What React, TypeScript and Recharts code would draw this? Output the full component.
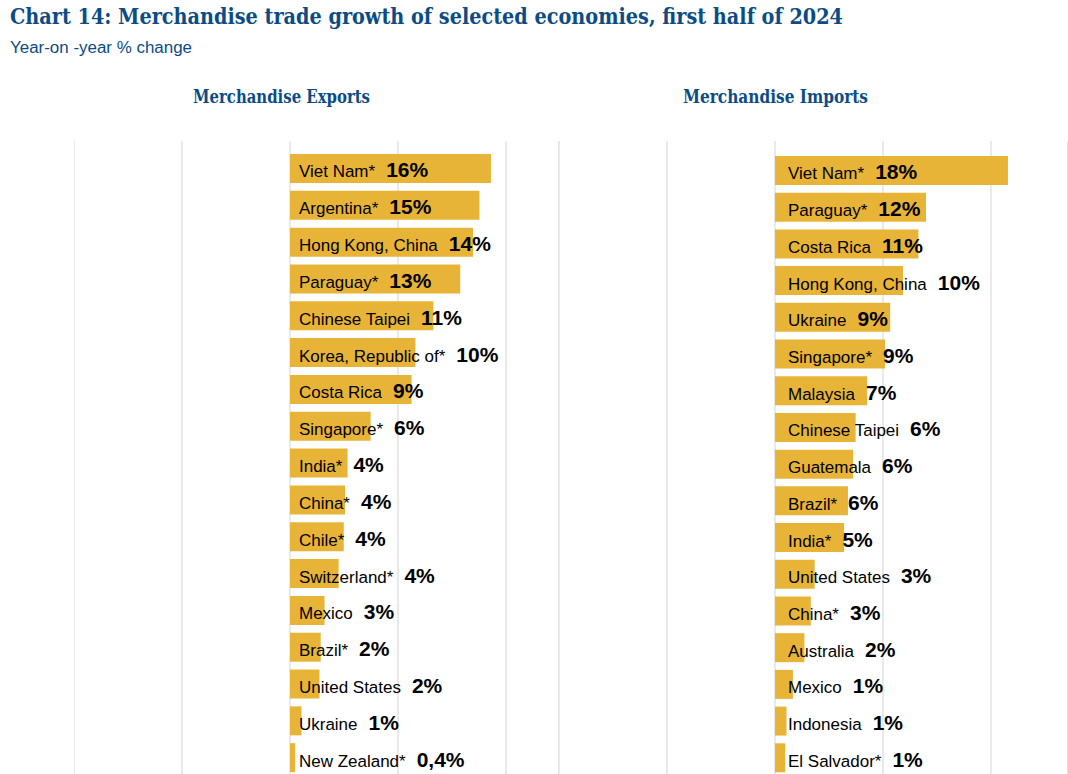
import { BarChart, Bar, XAxis, YAxis, CartesianGrid, LabelList } from "recharts";

const exportCountries = [
  "Viet Nam*", "Argentina*", "Hong Kong, China", "Paraguay*", "Chinese Taipei",
  "Korea, Republic of*", "Costa Rica", "Singapore*", "India*", "China*", "Chile*",
  "Switzerland*", "Mexico", "Brazil*", "United States", "Ukraine", "New Zealand*",
];
const exportValues = [15.7, 14.8, 14.3, 13.3, 11.2, 9.8, 9.5, 6.3, 4.5, 4.3, 4.2, 3.8, 2.7, 2.4, 2.3, 0.9, 0.4];
const exportLabels = ["16%", "15%", "14%", "13%", "11%", "10%", "9%", "6%", "4%", "4%", "4%", "4%", "3%", "2%", "2%", "1%", "0,4%"];

const importCountries = [
  "Viet Nam*", "Paraguay*", "Costa Rica", "Hong Kong, China", "Ukraine", "Singapore*",
  "Malaysia", "Chinese Taipei", "Guatemala", "Brazil*", "India*", "United States",
  "China*", "Australia", "Mexico", "Indonesia", "El Salvador*",
];
const importValues = [18.2, 11.8, 11.2, 10.0, 9.0, 8.6, 7.2, 6.3, 6.1, 5.7, 5.4, 3.1, 2.8, 2.3, 1.4, 0.9, 0.8];
const importLabels = ["18%", "12%", "11%", "10%", "9%", "9%", "7%", "6%", "6%", "6%", "5%", "3%", "3%", "2%", "1%", "1%", "1%"];

const gridTicks = [-16.875, -8.4375, 0, 8.4375, 16.875];

const BLUE = "#0b4c86";
const GOLD = "#e8b437";
const SANS = "'Liberation Sans', Arial, Helvetica, sans-serif";
const SLAB = "'DejaVu Serif', serif";

function Panel({ countries, values, labels, left, width, domainMax, padTop, textOffset }: any) {
  const data = countries.map((c: string, i: number) => ({ name: c, value: values[i] }));
  const renderLabel = (props: any) => {
    const { x, y, height, index } = props;
    return (
      <text x={x + textOffset} y={y + height / 2 + 9} fontFamily={SANS} fill="#000">
        <tspan fontSize={17}>{countries[index]}</tspan>
        <tspan dx={11} fontSize={21} fontWeight="bold">{labels[index]}</tspan>
      </text>
    );
  };
  return (
    <div style={{ position: "absolute", left, top: 141 }}>
      <BarChart
        width={width}
        height={635}
        data={data}
        layout="vertical"
        margin={{ top: 0, right: 0, bottom: 0, left: 0 }}
      >
        <CartesianGrid horizontal={false} stroke="#d4d4d4" />
        <XAxis type="number" domain={[-16.875, domainMax]} ticks={gridTicks} hide allowDataOverflow />
        <YAxis type="category" dataKey="name" hide padding={{ top: padTop, bottom: 0 }} />
        <Bar dataKey="value" fill={GOLD} barSize={29} isAnimationActive={false}>
          <LabelList dataKey="name" content={renderLabel} />
        </Bar>
      </BarChart>
    </div>
  );
}

export default function App() {
  return (
    <div
      style={{
        position: "absolute",
        left: 0,
        top: 0,
        width: 1068,
        height: 774,
        overflow: "hidden",
        background: "#fff",
      }}
    >
      <svg width={1068} height={130} style={{ position: "absolute", left: 0, top: 0 }}>
        <text x={10} y={24} fontFamily={SLAB} fontWeight="bold" fontSize={23} fill={BLUE}
          textLength={833} lengthAdjust="spacingAndGlyphs">
          Chart 14: Merchandise trade growth of selected economies, first half of 2024
        </text>
        <text x={10} y={53} fontFamily={SANS} fontSize={16} fill={BLUE}
          textLength={182} lengthAdjust="spacingAndGlyphs">
          Year-on -year % change
        </text>
        <text x={193} y={103} fontFamily={SLAB} fontWeight="bold" fontSize={18.5} fill={BLUE}
          textLength={177} lengthAdjust="spacingAndGlyphs">
          Merchandise Exports
        </text>
        <text x={683} y={103} fontFamily={SLAB} fontWeight="bold" fontSize={18.5} fill={BLUE}
          textLength={185} lengthAdjust="spacingAndGlyphs">
          Merchandise Imports
        </text>
      </svg>
      <Panel
        countries={exportCountries}
        values={exportValues}
        labels={exportLabels}
        left={74}
        width={484.8}
        domainMax={21}
        padTop={9}
        textOffset={9}
      />
      <Panel
        countries={importCountries}
        values={importValues}
        labels={importLabels}
        left={559}
        width={508.8}
        domainMax={22.875}
        padTop={11}
        textOffset={13}
      />
    </div>
  );
}
